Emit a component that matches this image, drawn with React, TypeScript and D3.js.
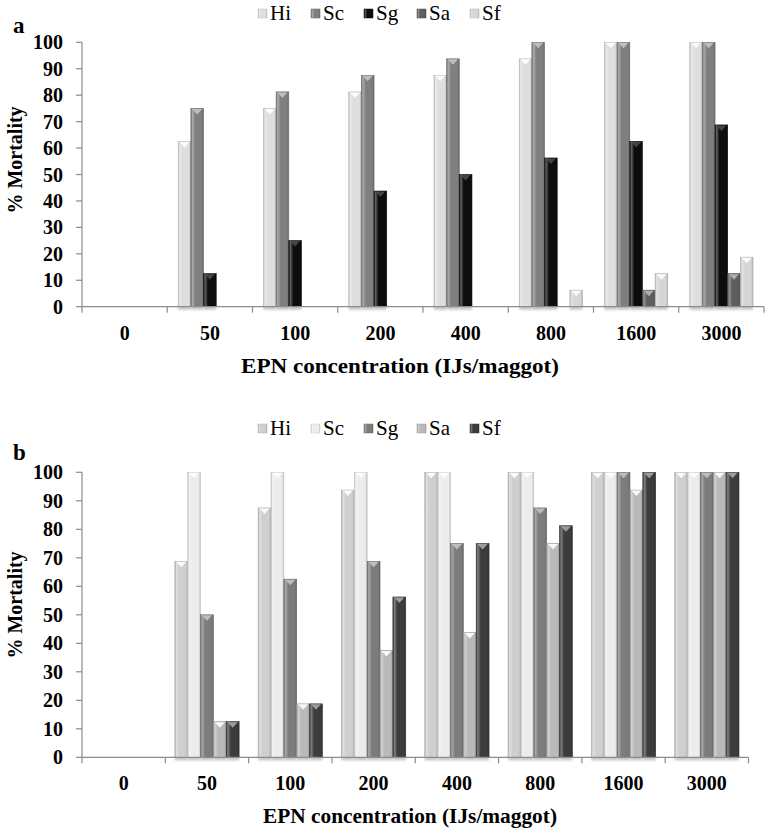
import React from "react";
import * as d3 from "d3";

const categories = ["0", "50", "100", "200", "400", "800", "1600", "3000"];
const seriesNames = ["Hi", "Sc", "Sg", "Sa", "Sf"];

// Panel a
const aHi = [0, 62.5, 75, 81.25, 87.5, 93.75, 100, 100];
const aSc = [0, 75, 81.25, 87.5, 93.75, 100, 100, 100];
const aSg = [0, 12.5, 25, 43.75, 50, 56.25, 62.5, 68.75];
const aSa = [0, 0, 0, 0, 0, 0, 6.25, 12.5];
const aSf = [0, 0, 0, 0, 0, 6.25, 12.5, 18.75];

// Panel b
const bHi = [0, 68.75, 87.5, 93.75, 100, 100, 100, 100];
const bSc = [0, 100, 100, 100, 100, 100, 100, 100];
const bSg = [0, 50, 62.5, 68.75, 75, 87.5, 100, 100];
const bSa = [0, 12.5, 18.75, 37.5, 43.75, 75, 93.75, 100];
const bSf = [0, 12.5, 18.75, 56.25, 75, 81.25, 100, 100];

const yTicks = [0, 10, 20, 30, 40, 50, 60, 70, 80, 90, 100];

const colorsA = ["#dedede", "#7f7f7f", "#0d0d0d", "#5e5e5e", "#d6d6d6"];
const colorsB = ["#cfcfcf", "#ececec", "#7c7c7c", "#b9b9b9", "#3c3c3c"];

const FONT = "'Times New Roman', 'Liberation Serif', Times, serif";

type PanelProps = {
  id: string;
  label: string;
  data: number[][];
  colors: string[];
  left: number;
  right: number;
  top: number;
  bottom: number;
  legendY: number;
  labelY: number;
  padOuter: number;
  titleX: number;
  titleW: number;
  yTitleY: number;
};

function Panel(p: PanelProps) {
  const x0 = d3.scaleBand<string>().domain(categories).range([p.left, p.right]).padding(0);
  const x1 = d3
    .scaleBand<string>()
    .domain(seriesNames)
    .range([0, x0.bandwidth()])
    .paddingInner(0)
    .paddingOuter(p.padOuter);
  const y = d3.scaleLinear().domain([0, 100]).range([p.bottom, p.top]);
  const bw = x1.bandwidth();
  const boundaries = categories.map((c) => x0(c) as number).concat([p.right]);
  const legendX = [258, 311, 364, 417, 470];

  return (
    <g>
      <defs>
        {p.colors.map((c, i) => {
          const base = d3.color(c)!;
          const light = d3.interpolateRgb(c, "#ffffff")(0.35);
          const dark = base.darker(0.6).formatHex();
          return (
            <linearGradient key={i} id={`${p.id}g${i}`} x1="0" x2="1" y1="0" y2="0">
              <stop offset="0" stopColor={dark} />
              <stop offset="0.12" stopColor={light} />
              <stop offset="0.35" stopColor={c} />
              <stop offset="0.85" stopColor={c} />
              <stop offset="1" stopColor={dark} />
            </linearGradient>
          );
        })}
        <filter id={`${p.id}blur`} x="-30%" y="-100%" width="160%" height="300%">
          <feGaussianBlur stdDeviation="1.3" />
        </filter>
      </defs>
      {/* legend */}
      {seriesNames.map((s, i) => (
        <g key={s}>
          <rect
            x={legendX[i]}
            y={p.legendY - 5}
            width={9}
            height={9}
            fill={`url(#${p.id}g${i})`}
            stroke={d3.color(p.colors[i])!.darker(0.4).formatHex()}
            strokeWidth={0.5}
          />
          <text x={legendX[i] + 12} y={p.legendY + 6} fontFamily={FONT} fontSize={21} fill="#000">
            {s}
          </text>
        </g>
      ))}
      {/* panel label */}
      <text x={13} y={p.labelY} fontFamily={FONT} fontSize={23} fontWeight="bold">
        {p.label}
      </text>
      {/* y axis */}
      <line x1={p.left} x2={p.left} y1={p.top} y2={p.bottom} stroke="#8c8c8c" strokeWidth={1.2} />
      {yTicks.map((t) => (
        <g key={t}>
          <line x1={p.left - 6} x2={p.left} y1={y(t)} y2={y(t)} stroke="#8c8c8c" strokeWidth={1.2} />
          <text
            x={p.left - 19}
            y={y(t) + 7}
            textAnchor="end"
            fontFamily={FONT}
            fontSize={20}
            fontWeight="bold"
          >
            {t}
          </text>
        </g>
      ))}
      <text
        transform={`translate(22,${p.yTitleY}) rotate(-90)`}
        textAnchor="middle"
        fontFamily={FONT}
        fontSize={20}
        fontWeight="bold"
      >
        % Mortality
      </text>
      {/* bar shadows */}
      {categories.map((c, ci) =>
        seriesNames.map((s, si) => {
          const v = p.data[si][ci];
          if (v <= 0) return null;
          const bx = (x0(c) as number) + (x1(s) as number);
          return (
            <rect
              key={`${c}-${s}`}
              x={bx}
              y={p.bottom - 1}
              width={bw}
              height={4}
              fill="#c4c4c4"
              filter={`url(#${p.id}blur)`}
            />
          );
        })
      )}
      {/* bars */}
      {categories.map((c, ci) => (
        <g key={c}>
          {seriesNames.map((s, si) => {
            const v = p.data[si][ci];
            if (v <= 0) return null;
            const bx = (x0(c) as number) + (x1(s) as number);
            const by = y(v);
            const h = p.bottom - by;
            const col = p.colors[si];
            const lum = d3.hsl(col).l;
            const triFill =
              lum < 0.15 ? "#4a4a4a" : lum < 0.6 ? d3.interpolateRgb(col, "#ffffff")(0.55) : "#ffffff";
            const tw = bw * 0.78;
            const th = Math.min(6, h);
            return (
              <g key={s}>
                <rect
                  x={bx}
                  y={by}
                  width={bw}
                  height={h}
                  fill={`url(#${p.id}g${si})`}
                  stroke={d3.color(col)!.darker(0.5).formatHex()}
                  strokeWidth={0.6}
                />
                <path
                  d={`M${bx + (bw - tw) / 2},${by + 0.5} L${bx + (bw + tw) / 2},${by + 0.5} L${bx + bw / 2},${by + th} Z`}
                  fill={triFill}
                  opacity={0.9}
                />
              </g>
            );
          })}
        </g>
      ))}
      {/* x axis */}
      <line x1={p.left} x2={p.right} y1={p.bottom} y2={p.bottom} stroke="#8c8c8c" strokeWidth={1.2} />
      {boundaries.map((bx, i) => (
        <line key={i} x1={bx} x2={bx} y1={p.bottom} y2={p.bottom + 6} stroke="#8c8c8c" strokeWidth={1.2} />
      ))}
      {categories.map((c) => (
        <text
          key={c}
          x={(x0(c) as number) + x0.bandwidth() / 2}
          y={p.bottom + 33}
          textAnchor="middle"
          fontFamily={FONT}
          fontSize={20}
          fontWeight="bold"
        >
          {c}
        </text>
      ))}
      <text
        x={p.titleX}
        y={p.bottom + 66}
        textLength={p.titleW}
        lengthAdjust="spacingAndGlyphs"
        fontFamily={FONT}
        fontSize={21}
        fontWeight="bold"
      >
        EPN concentration (IJs/maggot)
      </text>
    </g>
  );
}

export default function App() {
  return (
    <svg width={767} height={830} style={{ position: "absolute", left: 0, top: 0, background: "#fff" }}>
      <rect width={767} height={830} fill="#fff" />
      <Panel
        id="pa"
        label="a"
        data={[aHi, aSc, aSg, aSa, aSf]}
        colors={colorsA}
        left={82}
        right={764}
        top={42.3}
        bottom={306.7}
        legendY={14}
        labelY={33}
        padOuter={0.865}
        titleX={241}
        titleW={318}
        yTitleY={160}
      />
      <Panel
        id="pb"
        label="b"
        data={[bHi, bSc, bSg, bSa, bSf]}
        colors={colorsB}
        left={82}
        right={748.5}
        top={472.3}
        bottom={757.3}
        legendY={429}
        labelY={460}
        padOuter={0.74}
        titleX={263}
        titleW={294}
        yTitleY={605}
      />
    </svg>
  );
}
